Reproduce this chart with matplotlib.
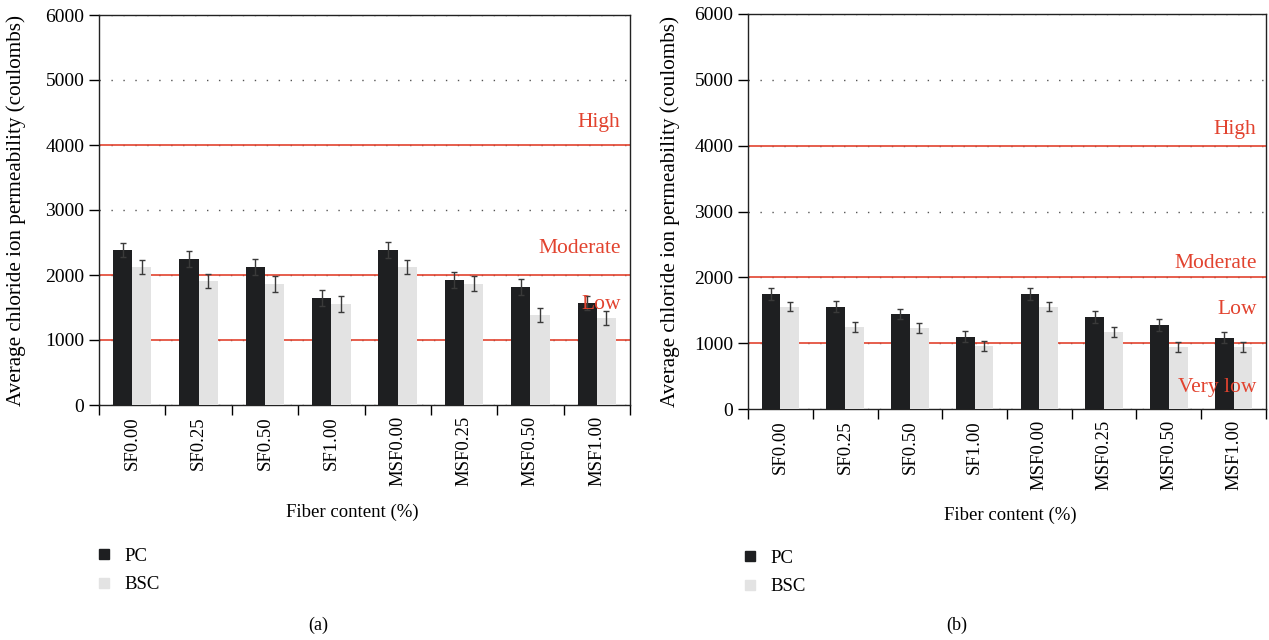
import matplotlib
matplotlib.use('Agg')
import matplotlib.pyplot as plt
import numpy as np
from matplotlib.lines import Line2D

plt.rcParams['font.family'] = ['Liberation Serif', 'DejaVu Serif']

# ---- data ----
mixes = ['SF0.00', 'SF0.25', 'SF0.50', 'SF1.00',
         'MSF0.00', 'MSF0.25', 'MSF0.50', 'MSF1.00']

# (a)
pc_a = [2385, 2246, 2123, 1646, 2385, 1923, 1815, 1569]
pc_a_err = [115, 120, 125, 120, 120, 125, 125, 115]
bsc_a = [2123, 1908, 1862, 1554, 2123, 1862, 1385, 1338]
bsc_a_err = [110, 115, 118, 125, 110, 115, 110, 110]

# (b)
pc_b = [1746, 1553, 1446, 1096, 1746, 1400, 1279, 1081]
pc_b_err = [90, 80, 80, 85, 90, 90, 90, 85]
bsc_b = [1553, 1248, 1233, 959, 1553, 1172, 944, 944]
bsc_b_err = [70, 80, 75, 75, 70, 80, 80, 80]

# chloride penetrability classes (ASTM C1202 limits)
limits = [1000, 2000, 4000]
class_a = [('High', 4340), ('Moderate', 2415), ('Low', 1540)]
class_b = [('High', 4240), ('Moderate', 2204), ('Low', 1505), ('Very low', 320)]

PC_COLOR = '#1e1f21'
BSC_COLOR = '#e3e3e3'
RED = '#e2432f'
W = 0.29

fig = plt.figure(figsize=(12.69, 6.4), dpi=100)
ax_a = fig.add_axes([99 / 1269, 235 / 640, 531 / 1269, 390 / 640])
ax_b = fig.add_axes([748 / 1269, 231 / 640, 518 / 1269, 395 / 640])


def draw_panel(ax, pc, pc_err, bsc, bsc_err, classes):
    x = np.arange(len(mixes))
    ax.bar(x - W / 2, pc, W, color=PC_COLOR, zorder=3)
    ax.bar(x + W / 2, bsc, W, color=BSC_COLOR, zorder=3)
    ax.errorbar(x - W / 2, pc, yerr=pc_err, fmt='none', ecolor='#3a3a3a',
                elinewidth=1, capsize=2, capthick=1, zorder=4)
    ax.errorbar(x + W / 2, bsc, yerr=bsc_err, fmt='none', ecolor='#3a3a3a',
                elinewidth=1, capsize=2, capthick=1, zorder=4)

    ax.set_xlim(-0.5, len(mixes) - 0.5)
    ax.set_ylim(0, 6000)
    ax.set_yticks(np.arange(0, 6001, 1000))
    ax.yaxis.grid(True, linestyle=(0, (1.0, 7.6)), color='#555555', lw=1.0)
    ax.set_axisbelow(True)

    for v in limits:
        ax.axhline(v, color=RED, lw=1.2, zorder=2)
    for name, yv in classes:
        ax.text(0.982, yv, name, transform=ax.get_yaxis_transform(),
                ha='right', va='center', color=RED, fontsize=15.5, zorder=5)

    ax.set_xticks(x)
    ax.set_xticklabels(mixes, rotation=90, fontsize=13.5)
    ax.set_xticks(np.arange(-0.5, len(mixes)), minor=True)
    ax.tick_params(axis='x', which='major', length=0, pad=8)
    ax.tick_params(axis='x', which='minor', length=7, width=1)
    ax.tick_params(axis='y', length=7, width=1, labelsize=14)
    for s in ax.spines.values():
        s.set_linewidth(1.0)
        s.set_color('#222222')
    ax.set_ylabel('Average chloride ion permeability (coulombs)', fontsize=15.2)


draw_panel(ax_a, pc_a, pc_a_err, bsc_a, bsc_a_err, class_a)
draw_panel(ax_b, pc_b, pc_b_err, bsc_b, bsc_b_err, class_b)
ax_a.yaxis.set_label_coords(-0.137, 0.5)
ax_b.yaxis.set_label_coords(-0.131, 0.5)

fig.text(352 / 1269, 1 - 512 / 640, 'Fiber content (%)', ha='center', va='center', fontsize=13.5)
fig.text(1010 / 1269, 1 - 515 / 640, 'Fiber content (%)', ha='center', va='center', fontsize=13.5)

handles = [Line2D([], [], marker='s', ls='none', color=PC_COLOR, markersize=7.5),
           Line2D([], [], marker='s', ls='none', color=BSC_COLOR, markersize=7.5)]
for lx, ly in [(78, 531), (724, 533)]:
    fig.legend(handles, ['PC', 'BSC'], loc='upper left',
               bbox_to_anchor=(lx / 1269, 1 - ly / 640), frameon=False,
               fontsize=13.5, handlelength=1.0, handletextpad=0.6,
               labelspacing=0.6)

fig.text(318 / 1269, 1 - 625 / 640, '(a)', ha='center', va='center', fontsize=13)
fig.text(957 / 1269, 1 - 625 / 640, '(b)', ha='center', va='center', fontsize=13)

fig.savefig('out.png', dpi=100)
